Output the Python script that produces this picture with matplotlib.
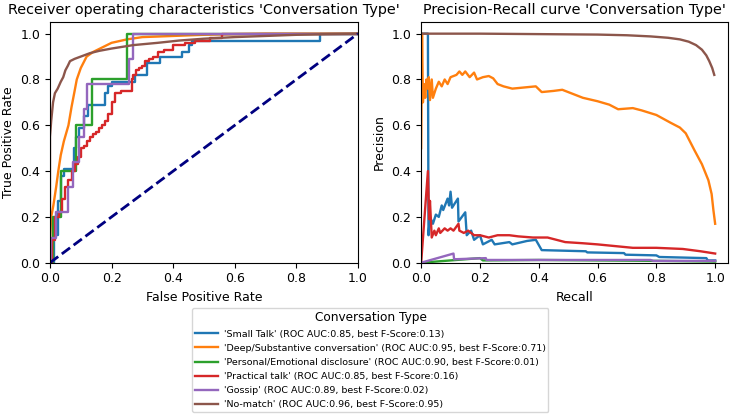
import numpy as np
import matplotlib.pyplot as plt

names = ["'Small Talk'", "'Deep/Substantive conversation'", "'Personal/Emotional disclosure'",
         "'Practical talk'", "'Gossip'", "'No-match'"]
roc_auc = [0.85, 0.95, 0.90, 0.85, 0.89, 0.96]
best_f = [0.13, 0.71, 0.01, 0.16, 0.02, 0.95]
colors = ['tab:blue', 'tab:orange', 'tab:green', 'tab:red', 'tab:purple', 'tab:brown']

# ROC curves (step ones are drawn with steps-post)
roc_blue = [(0, 0), (0.012, 0.12), (0.027, 0.27), (0.037, 0.38), (0.045, 0.41), (0.078, 0.5),
            (0.085, 0.55), (0.095, 0.59), (0.11, 0.64), (0.125, 0.69), (0.18, 0.74), (0.19, 0.77),
            (0.2, 0.79), (0.276, 0.82), (0.314, 0.87), (0.357, 0.9), (0.43, 0.92), (0.45, 0.95),
            (0.46, 0.97), (0.877, 1.0), (1.0, 1.0)]
roc_orange = [(0, 0), (0, 0.1), (0.004, 0.2), (0.011, 0.25), (0.02, 0.33), (0.027, 0.4), (0.035, 0.47),
              (0.045, 0.53), (0.06, 0.6), (0.07, 0.68), (0.08, 0.75), (0.087, 0.8), (0.1, 0.85),
              (0.119, 0.9), (0.14, 0.92), (0.17, 0.94), (0.2, 0.96), (0.25, 0.975), (0.3, 0.985),
              (0.4, 0.99), (0.5, 0.995), (0.6, 0.998), (0.7, 1.0), (1.0, 1.0)]
roc_green = [(0, 0), (0.011, 0.2), (0.035, 0.4), (0.084, 0.6), (0.135, 0.8), (0.249, 1.0), (1.0, 1.0)]
roc_red = [(0, 0), (0.008, 0.1), (0.016, 0.2), (0.03, 0.22), (0.04, 0.28), (0.05, 0.33), (0.06, 0.36),
           (0.07, 0.4), (0.08, 0.43), (0.09, 0.46), (0.1, 0.5), (0.11, 0.51), (0.12, 0.53), (0.13, 0.55),
           (0.14, 0.56), (0.15, 0.57), (0.16, 0.59), (0.17, 0.6), (0.18, 0.62), (0.19, 0.65), (0.2, 0.7),
           (0.21, 0.74), (0.23, 0.75), (0.265, 0.8), (0.27, 0.82), (0.28, 0.84), (0.29, 0.85), (0.3, 0.86),
           (0.31, 0.88), (0.32, 0.89), (0.335, 0.9), (0.35, 0.92), (0.37, 0.93), (0.4, 0.95), (0.44, 0.96),
           (0.47, 0.97), (0.52, 0.98), (0.56, 1.0), (1.0, 1.0)]
roc_purple = [(0, 0), (0.002, 0.11), (0.02, 0.22), (0.057, 0.33), (0.074, 0.44), (0.095, 0.55),
              (0.11, 0.67), (0.12, 0.78), (0.257, 0.89), (0.268, 1.0), (1.0, 1.0)]
roc_brown = [(0, 0), (0, 0.55), (0.004, 0.62), (0.01, 0.7), (0.016, 0.74), (0.025, 0.76), (0.035, 0.79),
             (0.043, 0.81), (0.05, 0.84), (0.058, 0.86), (0.065, 0.88), (0.08, 0.89), (0.1, 0.9),
             (0.13, 0.915), (0.16, 0.925), (0.2, 0.935), (0.27, 0.95), (0.35, 0.96), (0.42, 0.97),
             (0.5, 0.978), (0.6, 0.985), (0.7, 0.99), (0.8, 0.995), (0.9, 0.998), (1.0, 1.0)]
roc_steps = [True, False, True, True, True, False]

# precision-recall curves
pr_blue = [(0, 1.0), (0.023, 1.0), (0.025, 0.12), (0.03, 0.2), (0.04, 0.17), (0.05, 0.21), (0.06, 0.2),
           (0.07, 0.25), (0.075, 0.23), (0.09, 0.28), (0.095, 0.25), (0.1, 0.31), (0.105, 0.24),
           (0.125, 0.28), (0.127, 0.18), (0.15, 0.22), (0.155, 0.12), (0.17, 0.14), (0.18, 0.1),
           (0.2, 0.12), (0.21, 0.08), (0.24, 0.1), (0.25, 0.08), (0.3, 0.09), (0.31, 0.08), (0.36, 0.095),
           (0.39, 0.1), (0.41, 0.055), (0.56, 0.05), (0.565, 0.045), (0.69, 0.042), (0.695, 0.035),
           (0.8, 0.032), (0.81, 0.025), (0.97, 0.02), (0.975, 0.01), (1.0, 0.01)]
pr_orange = [(0, 0.5), (0.003, 1.0), (0.006, 0.7), (0.01, 0.78), (0.014, 0.72), (0.018, 0.8), (0.022, 0.76),
             (0.026, 0.81), (0.03, 0.71), (0.036, 0.8), (0.04, 0.72), (0.05, 0.76), (0.06, 0.79),
             (0.07, 0.77), (0.08, 0.8), (0.09, 0.78), (0.1, 0.81), (0.12, 0.82), (0.13, 0.835), (0.14, 0.82),
             (0.15, 0.835), (0.165, 0.81), (0.18, 0.83), (0.19, 0.8), (0.21, 0.81), (0.23, 0.815),
             (0.245, 0.805), (0.26, 0.78), (0.28, 0.77), (0.31, 0.76), (0.35, 0.765), (0.39, 0.77),
             (0.41, 0.745), (0.45, 0.75), (0.48, 0.755), (0.52, 0.735), (0.55, 0.72), (0.6, 0.705),
             (0.64, 0.69), (0.67, 0.67), (0.72, 0.675), (0.75, 0.665), (0.8, 0.645), (0.85, 0.61),
             (0.88, 0.59), (0.9, 0.565), (0.93, 0.49), (0.955, 0.43), (0.977, 0.36), (0.988, 0.3),
             (0.994, 0.23), (1.0, 0.17)]
pr_green = [(0, 0), (0.1, 0.01), (0.2, 0.02), (0.21, 0.01), (0.4, 0.012), (0.8, 0.008), (1.0, 0.005)]
pr_red = [(0, 0), (0.023, 0.4), (0.027, 0.19), (0.03, 0.27), (0.036, 0.11), (0.045, 0.14), (0.05, 0.12),
          (0.06, 0.15), (0.065, 0.13), (0.08, 0.15), (0.09, 0.14), (0.1, 0.15), (0.11, 0.14), (0.127, 0.17),
          (0.13, 0.14), (0.145, 0.13), (0.16, 0.14), (0.18, 0.12), (0.2, 0.12), (0.23, 0.11), (0.26, 0.12),
          (0.3, 0.12), (0.33, 0.115), (0.38, 0.11), (0.43, 0.11), (0.49, 0.09), (0.55, 0.085), (0.6, 0.08),
          (0.72, 0.065), (0.8, 0.065), (0.89, 0.06), (0.95, 0.05), (1.0, 0.04)]
pr_purple = [(0, 0), (0.11, 0.04), (0.112, 0.015), (0.22, 0.02), (0.222, 0.012), (0.78, 0.012),
             (0.79, 0.008), (1.0, 0.008)]
pr_brown = [(0, 1.0), (0.2, 1.0), (0.4, 0.998), (0.6, 0.996), (0.7, 0.993), (0.78, 0.988), (0.84, 0.982),
            (0.88, 0.975), (0.91, 0.965), (0.935, 0.95), (0.955, 0.93), (0.97, 0.905), (0.98, 0.88),
            (0.99, 0.85), (0.997, 0.82)]

roc_all = [roc_blue, roc_orange, roc_green, roc_red, roc_purple, roc_brown]
pr_all = [pr_blue, pr_orange, pr_green, pr_red, pr_purple, pr_brown]

fig = plt.figure(figsize=(7.35, 4.19), dpi=100)
ax1 = fig.add_axes([0.068, 0.373, 0.419, 0.574])
ax2 = fig.add_axes([0.573, 0.373, 0.418, 0.574])

lines = []
for i in range(6):
    x, y = zip(*roc_all[i])
    ds = 'steps-post' if roc_steps[i] else 'default'
    ln, = ax1.plot(x, y, color=colors[i], lw=1.7, drawstyle=ds,
                   label='%s (ROC AUC:%.2f, best F-Score:%.2f)' % (names[i], roc_auc[i], best_f[i]))
    lines.append(ln)
ax1.plot([0, 1], [0, 1], color='navy', lw=2, linestyle='--')
ax1.set_xlim(0, 1.0)
ax1.set_ylim(0, 1.05)
ax1.set_xlabel('False Positive Rate', fontsize=9)
ax1.set_ylabel('True Positive Rate', fontsize=9)
ax1.set_title("Receiver operating characteristics 'Conversation Type'", fontsize=10.4)

for i in range(6):
    x, y = zip(*pr_all[i])
    ax2.plot(x, y, color=colors[i], lw=1.7)
ax2.set_xlim(0, 1.045)
ax2.set_ylim(0, 1.05)
ax2.set_xlabel('Recall', fontsize=9)
ax2.set_ylabel('Precision', fontsize=9)
ax2.set_title("Precision-Recall curve 'Conversation Type'", fontsize=10.4)

for ax in (ax1, ax2):
    ax.tick_params(labelsize=9)

leg = fig.legend(handles=lines, loc='upper center', bbox_to_anchor=(0.504, 0.275),
                 title='Conversation Type', fontsize=6.8, title_fontsize=8.7,
                 handlelength=2.4, handletextpad=0.6, labelspacing=0.55, borderpad=0.3)

fig.savefig('out.png', dpi=100)
